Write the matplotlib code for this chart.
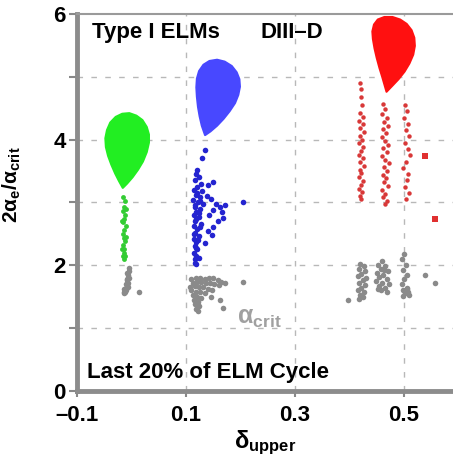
import matplotlib
matplotlib.use("Agg")
import matplotlib.pyplot as plt

# ---------- fonts ----------
plt.rcParams['font.family'] = ['Liberation Sans', 'DejaVu Sans']
plt.rcParams['font.weight'] = 'bold'
plt.rcParams['mathtext.fontset'] = 'custom'
plt.rcParams['mathtext.rm'] = 'Liberation Sans'
plt.rcParams['mathtext.bf'] = 'Liberation Sans:bold'
plt.rcParams['mathtext.it'] = 'Liberation Sans:italic'

# ---------- data ----------
# dense "teardrop" regions, outline vertices (delta, 2a_e/a_crit)
green_blob_x = [-0.016, -0.008, 0.002, 0.012, 0.021, 0.028, 0.032, 0.032, 0.028, 0.020, 0.009,
                -0.004, -0.017, -0.029, -0.039, -0.045, -0.048, -0.047, -0.043, -0.037, -0.030, -0.023]
green_blob_y = [3.23, 3.30, 3.40, 3.52, 3.65, 3.80, 3.95, 4.08, 4.20, 4.31, 4.38,
                4.42, 4.41, 4.36, 4.27, 4.15, 4.02, 3.88, 3.74, 3.60, 3.46, 3.34]

blue_blob_x = [0.135, 0.145, 0.157, 0.169, 0.180, 0.190, 0.196, 0.199, 0.198, 0.193, 0.184,
               0.171, 0.157, 0.143, 0.132, 0.124, 0.120, 0.119, 0.120, 0.122, 0.125, 0.129]
blue_blob_y = [4.07, 4.13, 4.22, 4.33, 4.45, 4.58, 4.71, 4.84, 4.96, 5.07, 5.17,
               5.24, 5.27, 5.25, 5.19, 5.09, 4.97, 4.83, 4.68, 4.52, 4.37, 4.22]

red_blob_x = [0.468, 0.478, 0.490, 0.501, 0.510, 0.517, 0.520, 0.519, 0.514, 0.505, 0.493,
              0.479, 0.464, 0.452, 0.445, 0.442, 0.443, 0.446, 0.450, 0.455, 0.460, 0.464]
red_blob_y = [4.76, 4.85, 4.96, 5.08, 5.21, 5.35, 5.49, 5.62, 5.74, 5.84, 5.91,
              5.95, 5.95, 5.91, 5.83, 5.72, 5.60, 5.45, 5.30, 5.14, 5.00, 4.88]

# individual points
green_x = [-0.015, -0.012, -0.014, -0.016, -0.012, -0.013, -0.015, -0.011, -0.014, -0.016, -0.013,
           -0.012, -0.015, -0.014, -0.013, -0.016, -0.014, -0.011, -0.017, -0.011, -0.017, -0.012]
green_y = [3.08, 3.02, 2.92, 2.86, 2.80, 2.74, 2.68, 2.62, 2.56, 2.50, 2.44,
           2.38, 2.32, 2.26, 2.20, 2.14, 2.10, 2.90, 2.70, 2.45, 2.25, 2.15]

blue_x = [0.135, 0.129, 0.120, 0.118, 0.124, 0.116, 0.127, 0.121, 0.114, 0.130, 0.118, 0.125, 0.113,
          0.122, 0.131, 0.116, 0.126, 0.119, 0.114, 0.124, 0.117, 0.128, 0.115, 0.121, 0.116, 0.124,
          0.114, 0.119, 0.116, 0.121, 0.114, 0.118, 0.116, 0.117, 0.119,
          0.140, 0.150, 0.138, 0.145, 0.155, 0.162, 0.166, 0.172, 0.150, 0.142, 0.168, 0.158, 0.150,
          0.148, 0.140, 0.205, 0.135,
          0.120, 0.125, 0.117, 0.123, 0.119, 0.126, 0.115, 0.122, 0.118, 0.124]
blue_y = [3.84, 3.71, 3.52, 3.45, 3.40, 3.35, 3.30, 3.25, 3.20, 3.18, 3.12, 3.08, 3.04,
          3.00, 2.97, 2.93, 2.90, 2.85, 2.80, 2.76, 2.70, 2.66, 2.62, 2.58, 2.52, 2.47,
          2.42, 2.37, 2.31, 2.26, 2.20, 2.15, 2.10, 2.04, 2.02,
          3.28, 3.33, 3.10, 3.05, 2.98, 2.92, 2.85, 2.95, 2.88, 2.80, 2.75, 2.70, 2.61,
          2.48, 2.55, 3.01, 2.35,
          3.15, 3.02, 2.95, 2.83, 2.73, 2.60, 2.50, 2.40, 2.28, 2.12]

red_x = [0.420, 0.422, 0.421, 0.423, 0.419, 0.425, 0.418, 0.424, 0.420, 0.426, 0.419, 0.423, 0.418, 0.425,
         0.421, 0.417, 0.424, 0.420, 0.426, 0.419, 0.422, 0.418, 0.425, 0.421, 0.417, 0.423, 0.420, 0.422,
         0.462, 0.466, 0.460, 0.468, 0.463, 0.470, 0.461, 0.467, 0.459, 0.465, 0.471, 0.462, 0.468, 0.460,
         0.466, 0.472, 0.463, 0.469, 0.461, 0.467, 0.464, 0.470, 0.460, 0.466, 0.462, 0.468, 0.465,
         0.502, 0.506, 0.500, 0.508, 0.503, 0.510, 0.501, 0.507, 0.511, 0.504, 0.499, 0.508, 0.505,
         0.502, 0.509, 0.504]
red_y = [4.90, 4.80, 4.68, 4.55, 4.42, 4.36, 4.30, 4.24, 4.18, 4.12, 4.06, 4.00, 3.94, 3.88,
         3.82, 3.76, 3.70, 3.64, 3.58, 3.52, 3.46, 3.40, 3.34, 3.28, 3.22, 3.16, 3.10, 3.05,
         4.56, 4.48, 4.40, 4.34, 4.28, 4.22, 4.16, 4.10, 4.04, 3.98, 3.92, 3.86, 3.80, 3.74,
         3.68, 3.62, 3.56, 3.50, 3.44, 3.38, 3.32, 3.26, 3.20, 3.14, 3.08, 3.02, 2.97,
         4.55, 4.45, 4.35, 4.25, 4.15, 4.05, 3.95, 3.85, 3.75, 3.65, 3.55, 3.45, 3.35,
         3.25, 3.15, 3.06]
red_out_x = [0.539, 0.557]
red_out_y = [3.74, 2.74]

# alpha_crit points (gray)
crit_x = [-0.005, -0.004, -0.006, -0.005, -0.008, -0.007, -0.009, -0.010, -0.011, -0.012, -0.013,
          -0.008, -0.009, -0.011, -0.013, -0.014, -0.006, 0.014,
          0.110, 0.118, 0.126, 0.134, 0.142, 0.150, 0.158, 0.165, 0.172, 0.112, 0.120, 0.128, 0.136,
          0.144, 0.152, 0.160, 0.108, 0.116, 0.124, 0.132, 0.140, 0.148, 0.110, 0.118, 0.126, 0.134,
          0.112, 0.120, 0.128, 0.114, 0.122, 0.116, 0.124, 0.118, 0.122, 0.205, 0.162, 0.168, 0.145,
          0.420, 0.426, 0.418, 0.428, 0.422, 0.416, 0.430, 0.424, 0.418, 0.428, 0.421, 0.415, 0.426,
          0.419, 0.424, 0.417,
          0.460, 0.452, 0.466, 0.458, 0.470, 0.450, 0.462, 0.455, 0.468, 0.449, 0.460, 0.472, 0.454,
          0.465, 0.458, 0.468, 0.452, 0.463,
          0.500, 0.497, 0.503, 0.498, 0.505, 0.500, 0.496, 0.506, 0.499, 0.508, 0.502, 0.510, 0.498,
          0.505, 0.397, 0.539, 0.557]
crit_y = [1.95, 1.90, 1.85, 1.80, 1.76, 1.72, 1.68, 1.64, 1.60, 1.57, 1.55,
          1.88, 1.78, 1.70, 1.62, 1.58, 1.66, 1.58,
          1.78, 1.80, 1.79, 1.78, 1.80, 1.79, 1.77, 1.74, 1.72, 1.72, 1.74, 1.73, 1.72,
          1.71, 1.70, 1.68, 1.66, 1.67, 1.66, 1.65, 1.62, 1.60, 1.60, 1.58, 1.58, 1.55,
          1.52, 1.50, 1.48, 1.45, 1.42, 1.38, 1.35, 1.31, 1.27, 1.73, 1.45, 1.32, 1.50,
          2.02, 1.98, 1.94, 1.90, 1.86, 1.82, 1.80, 1.76, 1.72, 1.68, 1.64, 1.60, 1.57,
          1.53, 1.49, 1.46,
          2.06, 2.00, 1.98, 1.94, 1.90, 1.88, 1.85, 1.81, 1.78, 1.75, 1.72, 1.70, 1.67,
          1.64, 1.60, 1.58, 1.62, 1.92,
          2.18, 2.10, 2.00, 1.92, 1.85, 1.78, 1.70, 1.64, 1.60, 1.58, 1.55, 1.53, 1.51,
          1.62, 1.45, 1.85, 1.72]

y_ticks = [0, 2, 4, 6]
y_minor = [1, 3, 5]
x_ticks = [-0.1, 0.1, 0.3, 0.5]
x_labels = ['\u20130.1', '0.1', '0.3', '0.5']

# ---------- figure ----------
fig = plt.figure(figsize=(4.53, 4.62), dpi=100)
ax = fig.add_axes([0.170, 0.154, 0.830, 0.816])
ax.set_xlim(-0.1, 0.59)
ax.set_ylim(0, 6)

grid_kw = dict(color='#b8b8b8', lw=1.0, ls=(0, (4, 6)), zorder=0)
for yv in y_minor + [2, 4]:
    ax.axhline(yv, **grid_kw)
for xv in x_ticks[1:]:
    ax.axvline(xv, **grid_kw)

ax.fill(green_blob_x, green_blob_y, color='#22ee22', lw=1.5, joinstyle='round', zorder=3)
ax.fill(blue_blob_x, blue_blob_y, color='#4848ff', lw=1.5, joinstyle='round', zorder=3)
ax.fill(red_blob_x, red_blob_y, color='#ff1010', lw=1.5, joinstyle='round', zorder=3)

ax.plot(green_x, green_y, 'o', color='#33cc33', ms=3.5, mew=0, zorder=2)
ax.plot(blue_x, blue_y, 'o', color='#2424d0', ms=4, mew=0, zorder=2)
ax.plot(red_x, red_y, 'o', color='#d83838', ms=3.2, mew=0, zorder=2)
ax.plot(red_out_x, red_out_y, 's', color='#e03030', ms=4, mew=0, zorder=2)
ax.plot(crit_x, crit_y, 'o', color='#8a8a8a', ms=4, mew=0, zorder=2)

# texts
ax.text(-0.072, 5.71, 'Type I ELMs', fontsize=16, fontweight='bold', va='center', ha='left')
ax.text(0.236, 5.71, 'DIII\u2013D', fontsize=16, fontweight='bold', va='center', ha='left')
ax.text(-0.082, 0.29, 'Last 20% of ELM Cycle', fontsize=16, fontweight='bold', va='center', ha='left')
ax.text(0.194, 1.16, r'$\mathrm{\alpha}_{\mathbf{crit}}$', fontsize=18, color='#a0a0a0',
        va='center', ha='left')

# axes styling
ax.set_yticks(y_ticks)
ax.set_yticks(y_minor, minor=True)
ax.set_xticks(x_ticks)
ax.set_xticklabels(x_labels)
ax.tick_params(axis='both', which='both', direction='out', color='#888888', width=1.5,
               labelsize=16)
ax.tick_params(axis='y', which='both', length=6, pad=2)
ax.tick_params(axis='x', which='major', length=4, pad=6)
for lab in ax.get_xticklabels() + ax.get_yticklabels():
    lab.set_fontweight('bold')

ax.spines['right'].set_visible(False)
ax.spines['top'].set_color('#9a9a9a')
ax.spines['top'].set_linewidth(1.5)
for s in ['left', 'bottom']:
    ax.spines[s].set_color('#8c8c8c')
    ax.spines[s].set_linewidth(3.5)

ax.set_xlabel(r'$\mathrm{\delta}_{\mathbf{upper}}$', fontsize=17, labelpad=2)
ax.set_ylabel(r'$\mathbf{2}\mathrm{\alpha}_{\mathbf{e}}\mathbf{/}\mathrm{\alpha}_{\mathbf{crit}}$',
              fontsize=15)
ax.yaxis.set_label_coords(-0.144, 0.546)

fig.savefig('out.png', dpi=100)
